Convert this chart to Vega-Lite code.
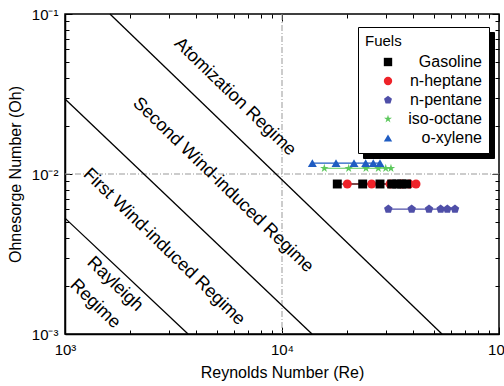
{
  "$schema": "https://vega.github.io/schema/vega-lite/v6.json",
  "width": 434,
  "height": 320,
  "autosize": {"type": "none"},
  "padding": {"left": 65, "top": 14, "right": 5, "bottom": 52},
  "background": "white",
  "config": {
    "font": "Liberation Sans",
    "view": {"stroke": "black", "strokeWidth": 1.5},
    "axis": {"labelFont": "Liberation Sans", "titleFont": "Liberation Sans", "labelColor": "black", "titleColor": "black", "tickColor": "black", "domainColor": "black", "grid": false, "titleFontWeight": "normal"},
    "legend": {"labelFont": "Liberation Sans", "titleFont": "Liberation Sans"}
  },
  "datasets": {
    "regimes": [
      {"line": "a", "Re": 1611, "Oh": 0.1},
      {"line": "a", "Re": 54600, "Oh": 0.001},
      {"line": "b", "Re": 1000, "Oh": 0.0294},
      {"line": "b", "Re": 13750, "Oh": 0.001},
      {"line": "c", "Re": 1000, "Oh": 0.0053},
      {"line": "c", "Re": 3690, "Oh": 0.001}
    ],
    "labels": [
      {"label": "Atomization Regime", "Re": 6067, "Oh": 0.0303},
      {"label": "Second Wind-induced Regime", "Re": 5346, "Oh": 0.00853},
      {"label": "First Wind-induced Regime", "Re": 2858, "Oh": 0.0035},
      {"label": "Rayleigh", "Re": 1700, "Oh": 0.00205},
      {"label": "Regime", "Re": 1375, "Oh": 0.00154}
    ],
    "fuels": [
      {"fuel": "n-heptane", "name": "n-heptane", "Re": 20000, "Oh": 0.00866},
      {"fuel": "n-heptane", "name": "n-heptane", "Re": 25890, "Oh": 0.00866},
      {"fuel": "n-heptane", "name": "n-heptane", "Re": 31460, "Oh": 0.00866},
      {"fuel": "n-heptane", "name": "n-heptane", "Re": 35610, "Oh": 0.00866},
      {"fuel": "n-heptane", "name": "n-heptane", "Re": 38610, "Oh": 0.00866},
      {"fuel": "n-heptane", "name": "n-heptane", "Re": 41460, "Oh": 0.00866},
      {"fuel": "Gasoline", "name": "Gasoline", "Re": 17980, "Oh": 0.00866},
      {"fuel": "Gasoline", "name": "Gasoline", "Re": 23540, "Oh": 0.00866},
      {"fuel": "Gasoline", "name": "Gasoline", "Re": 28290, "Oh": 0.00866},
      {"fuel": "Gasoline", "name": "Gasoline", "Re": 32030, "Oh": 0.00866},
      {"fuel": "Gasoline", "name": "Gasoline", "Re": 33780, "Oh": 0.00866},
      {"fuel": "Gasoline", "name": "Gasoline", "Re": 35610, "Oh": 0.00866},
      {"fuel": "Gasoline", "name": "Gasoline", "Re": 37550, "Oh": 0.00866},
      {"fuel": "n-pentane", "name": "n-pentane", "Re": 30900, "Oh": 0.00604},
      {"fuel": "n-pentane", "name": "n-pentane", "Re": 39590, "Oh": 0.00604},
      {"fuel": "n-pentane", "name": "n-pentane", "Re": 47590, "Oh": 0.00604},
      {"fuel": "n-pentane", "name": "n-pentane", "Re": 53850, "Oh": 0.00604},
      {"fuel": "n-pentane", "name": "n-pentane", "Re": 57790, "Oh": 0.00604},
      {"fuel": "n-pentane", "name": "n-pentane", "Re": 62680, "Oh": 0.00604},
      {"fuel": "iso-octane", "name": "iso-octane", "Re": 15670, "Oh": 0.01086},
      {"fuel": "iso-octane", "name": "iso-octane", "Re": 20290, "Oh": 0.01086},
      {"fuel": "iso-octane", "name": "iso-octane", "Re": 24380, "Oh": 0.01086},
      {"fuel": "iso-octane", "name": "iso-octane", "Re": 27790, "Oh": 0.01086},
      {"fuel": "iso-octane", "name": "iso-octane", "Re": 30060, "Oh": 0.01086},
      {"fuel": "iso-octane", "name": "iso-octane", "Re": 31780, "Oh": 0.01086},
      {"fuel": "o-xylene", "name": "o-xylene", "Re": 13800, "Oh": 0.0117},
      {"fuel": "o-xylene", "name": "o-xylene", "Re": 17740, "Oh": 0.0117},
      {"fuel": "o-xylene", "name": "o-xylene", "Re": 21470, "Oh": 0.0117},
      {"fuel": "o-xylene", "name": "o-xylene", "Re": 24300, "Oh": 0.0117},
      {"fuel": "o-xylene", "name": "o-xylene", "Re": 26340, "Oh": 0.0117},
      {"fuel": "o-xylene", "name": "o-xylene", "Re": 28280, "Oh": 0.0117}
    ],
    "vgrid": [{"Re": 10000}],
    "hgrid": [{"Oh": 0.01}]
  },
  "resolve": {"axis": {"x": "independent", "y": "independent"}},
  "layer": [
    {
      "data": {"name": "vgrid"},
      "mark": {"type": "rule", "color": "#999999", "strokeWidth": 1, "strokeDash": [6, 2, 1, 2]},
      "encoding": {
        "x": {"field": "Re", "type": "quantitative", "scale": {"type": "log", "domain": [1000, 100000], "nice": false}, "axis": null}
      }
    },
    {
      "data": {"name": "hgrid"},
      "mark": {"type": "rule", "color": "#999999", "strokeWidth": 1, "strokeDash": [6, 2, 1, 2]},
      "encoding": {
        "y": {"field": "Oh", "type": "quantitative", "scale": {"type": "log", "domain": [0.001, 0.1], "nice": false}, "axis": null}
      }
    },
    {
      "data": {"name": "regimes"},
      "mark": {"type": "line", "color": "black", "strokeWidth": 1.3},
      "encoding": {
        "x": {"field": "Re", "type": "quantitative", "scale": {"type": "log", "domain": [1000, 100000], "nice": false},
          "axis": {"orient": "bottom", "values": [1000, 10000, 100000], "labelExpr": "datum.value < 5000 ? '10³' : datum.value < 50000 ? '10⁴' : '10⁵'", "tickSize": -7, "labelPadding": 15, "labelFontSize": 15, "title": "Reynolds Number (Re)", "titleFontSize": 16, "titlePadding": 7, "domainWidth": 1.5, "labelFlush": false}},
        "y": {"field": "Oh", "type": "quantitative", "scale": {"type": "log", "domain": [0.001, 0.1], "nice": false},
          "axis": {"orient": "left", "values": [0.001, 0.01, 0.1], "labelExpr": "datum.value < 0.005 ? '10⁻³' : datum.value < 0.05 ? '10⁻²' : '10⁻¹'", "tickSize": -7, "labelPadding": 14, "labelFontSize": 15, "title": "Ohnesorge Number (Oh)", "titleFontSize": 16, "titlePadding": 8, "domainWidth": 1.5, "labelFlush": false}},
        "detail": {"field": "line"}
      }
    },
    {
      "data": {"name": "labels"},
      "mark": {"type": "text", "angle": 44, "fontSize": 18, "font": "Liberation Sans", "color": "black", "align": "center", "baseline": "middle"},
      "encoding": {
        "x": {"field": "Re", "type": "quantitative", "scale": {"type": "log", "domain": [1000, 100000], "nice": false},
          "axis": {"orient": "bottom", "values": [2000, 3000, 4000, 5000, 6000, 7000, 8000, 9000, 20000, 30000, 40000, 50000, 60000, 70000, 80000, 90000], "labels": false, "tickSize": -4, "domain": false, "title": null}},
        "y": {"field": "Oh", "type": "quantitative", "scale": {"type": "log", "domain": [0.001, 0.1], "nice": false},
          "axis": {"orient": "left", "values": [0.002, 0.003, 0.004, 0.005, 0.006, 0.007, 0.008, 0.009, 0.02, 0.03, 0.04, 0.05, 0.06, 0.07, 0.08, 0.09], "labels": false, "tickSize": -4, "domain": false, "title": null}},
        "text": {"field": "label"}
      }
    },
    {
      "data": {"name": "fuels"},
      "mark": {"type": "line", "strokeWidth": 1.2},
      "encoding": {
        "x": {"field": "Re", "type": "quantitative", "scale": {"type": "log", "domain": [1000, 100000], "nice": false},
          "axis": {"orient": "top", "values": [1000, 10000, 100000], "labels": false, "tickSize": -7, "domain": false, "title": null}},
        "y": {"field": "Oh", "type": "quantitative", "scale": {"type": "log", "domain": [0.001, 0.1], "nice": false},
          "axis": {"orient": "right", "values": [0.001, 0.01, 0.1], "labels": false, "tickSize": -7, "domain": false, "title": null}},
        "color": {"field": "fuel", "type": "nominal", "scale": {"domain": ["Gasoline", "n-heptane", "n-pentane", "iso-octane", "o-xylene"], "range": ["#000000", "#ee2229", "#4f4fa8", "#5cc85c", "#1f5cc2"]}},
        "strokeDash": {"field": "name", "type": "nominal", "scale": {"domain": ["o-xylene", "iso-octane", "n-pentane", "n-heptane", "Gasoline"], "range": [[1, 0], [1, 0], [1, 0], [1, 0], [1, 0]]},
          "legend": {"title": "\u00a0", "orient": "none", "legendX": 298, "legendY": 18, "titleFontSize": 15, "titleFontWeight": "normal", "titleColor": "black", "labelFontSize": 16, "labelColor": "black", "labelExpr": "'\u00a0'", "strokeColor": "black", "fillColor": "black", "padding": 7, "rowPadding": 3, "symbolSize": 70, "symbolStrokeColor": "black", "symbolOffset": 15, "labelAlign": "right", "labelOffset": 86, "zindex": 0}},
        "detail": {"field": "fuel"}
      }
    },
    {
      "data": {"name": "fuels"},
      "mark": {"type": "point", "filled": true, "size": 80, "opacity": 1},
      "encoding": {
        "x": {"field": "Re", "type": "quantitative", "scale": {"type": "log", "domain": [1000, 100000], "nice": false},
          "axis": {"orient": "top", "values": [2000, 3000, 4000, 5000, 6000, 7000, 8000, 9000, 20000, 30000, 40000, 50000, 60000, 70000, 80000, 90000], "labels": false, "tickSize": -4, "domain": false, "title": null}},
        "y": {"field": "Oh", "type": "quantitative", "scale": {"type": "log", "domain": [0.001, 0.1], "nice": false},
          "axis": {"orient": "right", "values": [0.002, 0.003, 0.004, 0.005, 0.006, 0.007, 0.008, 0.009, 0.02, 0.03, 0.04, 0.05, 0.06, 0.07, 0.08, 0.09], "labels": false, "tickSize": -4, "domain": false, "title": null}},
        "color": {"field": "fuel", "type": "nominal", "scale": {"domain": ["Gasoline", "n-heptane", "n-pentane", "iso-octane", "o-xylene"], "range": ["#000000", "#ee2229", "#4f4fa8", "#5cc85c", "#1f5cc2"]},
          "legend": {"title": "Fuels", "orient": "none", "legendX": 293, "legendY": 13, "titleFontSize": 15, "titleFontWeight": "normal", "titleColor": "black", "labelFontSize": 16, "labelColor": "black", "strokeColor": "black", "fillColor": "white", "padding": 7, "rowPadding": 3, "symbolSize": 70, "symbolStrokeWidth": 0, "symbolOffset": 15, "labelAlign": "right", "labelOffset": 86, "zindex": 1}},
        "shape": {"field": "fuel", "type": "nominal", "scale": {"domain": ["Gasoline", "n-heptane", "n-pentane", "iso-octane", "o-xylene"], "range": ["square", "circle", "M0,-1L0.951,-0.309L0.588,0.809L-0.588,0.809L-0.951,-0.309Z", "M0,-1L0.225,-0.309L0.951,-0.309L0.363,0.118L0.588,0.809L0,0.382L-0.588,0.809L-0.363,0.118L-0.951,-0.309L-0.225,-0.309Z", "triangle-up"]}}
      }
    }
  ]
}
